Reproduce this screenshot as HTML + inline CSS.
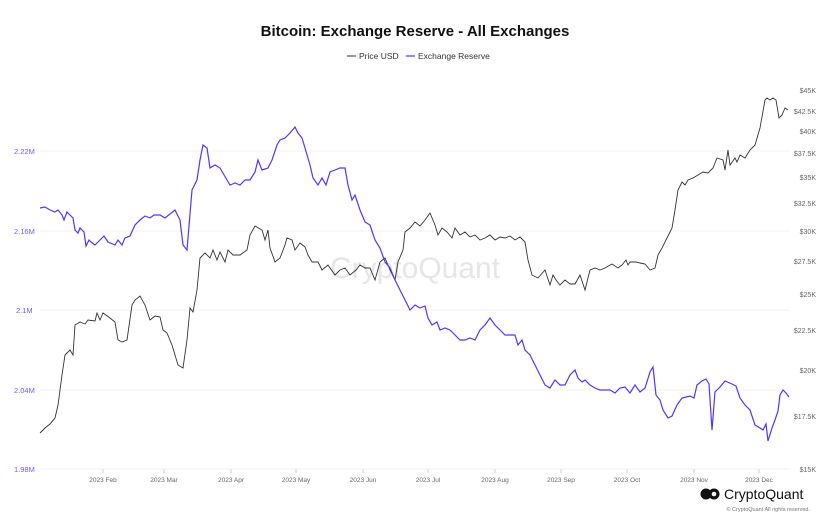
<!DOCTYPE html>
<html><head><meta charset="utf-8"><style>
body{margin:0;background:#fff;}
svg{display:block;font-family:"Liberation Sans",sans-serif;}
</style></head><body>
<svg width="830" height="523" viewBox="0 0 830 523">
<rect width="830" height="523" fill="#fff"/>
<text x="415" y="36" text-anchor="middle" font-size="15" font-weight="bold" fill="#111">Bitcoin: Exchange Reserve - All Exchanges</text>
<line x1="347" y1="56" x2="356" y2="56" stroke="#333" stroke-width="1"/>
<text x="359" y="59" font-size="8.5" fill="#333">Price USD</text>
<line x1="406" y1="56" x2="415" y2="56" stroke="#5533ff" stroke-width="1.2"/>
<text x="418" y="59" font-size="8.5" fill="#333">Exchange Reserve</text>
<g stroke="#f0f0f0" stroke-width="1">
<line x1="40" y1="151" x2="790" y2="151"/><line x1="40" y1="231" x2="790" y2="231"/><line x1="40" y1="310" x2="790" y2="310"/><line x1="40" y1="390" x2="790" y2="390"/><line x1="40" y1="469" x2="790" y2="469"/>
</g>
<g font-size="7.5" fill="#6f5cff">
<text x="14" y="154">2.22M</text><text x="14" y="234">2.16M</text><text x="16" y="313">2.1M</text><text x="14" y="393">2.04M</text><text x="14" y="472">1.98M</text>
</g>
<g font-size="7" fill="#666" text-anchor="end">
<text x="816" y="93">$45K</text><text x="816" y="114">$42.5K</text><text x="816" y="134">$40K</text><text x="816" y="156">$37.5K</text><text x="816" y="180">$35K</text><text x="816" y="206">$32.5K</text><text x="816" y="234">$30K</text><text x="816" y="264">$27.5K</text><text x="816" y="297">$25K</text><text x="816" y="333">$22.5K</text><text x="816" y="373">$20K</text><text x="816" y="419">$17.5K</text><text x="816" y="472">$15K</text>
</g>
<g stroke="#ccc"><line x1="103" y1="469" x2="103" y2="473"/><line x1="164" y1="469" x2="164" y2="473"/><line x1="231" y1="469" x2="231" y2="473"/><line x1="296" y1="469" x2="296" y2="473"/><line x1="363" y1="469" x2="363" y2="473"/><line x1="428" y1="469" x2="428" y2="473"/><line x1="495" y1="469" x2="495" y2="473"/><line x1="561" y1="469" x2="561" y2="473"/><line x1="627" y1="469" x2="627" y2="473"/><line x1="694" y1="469" x2="694" y2="473"/><line x1="759" y1="469" x2="759" y2="473"/></g>
<g font-size="6.5" fill="#666" text-anchor="middle">
<text x="103" y="482">2023 Feb</text><text x="164" y="482">2023 Mar</text><text x="231" y="482">2023 Apr</text><text x="296" y="482">2023 May</text><text x="363" y="482">2023 Jun</text><text x="428" y="482">2023 Jul</text><text x="495" y="482">2023 Aug</text><text x="561" y="482">2023 Sep</text><text x="627" y="482">2023 Oct</text><text x="694" y="482">2023 Nov</text><text x="759" y="482">2023 Dec</text>
</g>
<text x="415" y="278" text-anchor="middle" font-size="30" fill="#e6e6e6">CryptoQuant</text>
<polyline fill="none" stroke="#333" stroke-width="0.9" points="40,433 45,428 50,424 55,418 58,405 62,375 65,355 70,350 73,355 75,325 80,322 85,324 88,320 95,321 97,313 100,320 103,313 110,318 115,322 118,340 122,342 127,340 132,305 135,300 140,296 145,305 150,320 155,316 160,317 163,330 167,333 172,345 178,365 183,368 187,340 190,308 193,312 197,290 200,258 205,253 210,258 213,250 217,260 220,252 225,262 228,250 233,255 240,255 247,250 250,235 255,226 262,230 265,240 268,230 270,248 275,262 280,258 285,245 287,238 292,240 295,250 300,243 305,247 308,255 312,262 318,262 322,270 328,265 335,275 340,270 345,268 350,275 356,270 360,265 365,268 370,268 375,280 380,262 385,258 390,270 395,280 398,262 403,250 405,232 410,228 415,222 420,226 425,220 430,213 435,225 438,235 442,228 447,232 452,238 455,228 460,235 465,232 470,237 475,235 480,240 485,238 490,235 495,240 500,237 505,238 510,236 515,240 520,237 525,242 528,260 532,275 538,278 545,270 550,285 553,275 556,280 560,285 565,280 570,284 575,284 580,275 585,290 590,270 595,268 600,270 605,268 612,264 618,268 622,265 626,260 628,265 630,262 636,262 640,263 645,264 650,270 655,268 658,255 662,248 667,238 672,228 675,210 678,190 682,182 685,185 688,180 693,178 698,175 703,172 708,173 713,168 717,158 723,160 725,170 728,150 730,165 735,158 737,162 740,155 745,158 750,150 755,145 760,128 765,100 767,98 770,100 773,98 776,100 779,118 782,115 785,108 788,110"/>
<polyline fill="none" stroke="#5533ff" stroke-width="1.2" points="40,208 45,207 50,210 55,212 58,210 62,215 64,220 67,212 70,215 73,218 75,230 78,233 80,228 84,232 86,246 89,240 91,242 95,245 100,240 104,236 108,242 115,245 118,240 122,245 125,238 130,236 135,225 140,220 145,216 150,218 154,215 160,215 165,218 170,214 175,210 180,220 183,245 187,250 192,190 197,180 200,160 203,145 207,148 210,168 215,165 220,168 227,180 230,185 235,183 240,185 245,180 250,180 255,172 258,160 262,170 268,168 272,160 277,145 280,140 285,138 290,133 295,127 298,133 302,138 305,148 310,165 313,178 318,185 322,178 326,185 330,172 335,170 340,168 345,168 348,185 352,200 355,195 360,210 365,222 370,225 375,240 380,248 385,262 390,268 395,280 400,290 405,300 410,310 415,305 420,308 425,306 428,318 432,325 437,322 440,330 445,328 450,330 455,335 460,340 465,340 470,338 475,340 480,330 485,325 490,318 495,325 500,330 505,335 510,335 515,335 518,345 522,340 525,350 530,355 535,365 540,375 545,385 550,388 555,380 560,385 565,385 570,375 575,370 578,378 582,382 585,380 590,385 595,388 600,390 605,390 610,390 615,393 620,388 625,387 630,393 635,385 640,392 645,388 650,372 653,367 656,395 660,400 663,410 668,418 672,416 677,405 682,398 690,396 694,398 697,385 702,381 706,379 709,384 712,430 715,392 720,387 725,381 732,384 736,386 740,398 745,405 750,410 755,425 760,428 763,430 766,424 768,441 772,428 775,420 778,411 780,395 783,390 786,393 789,397"/>
<g fill="#111">
<circle cx="706" cy="494" r="5.5"/><circle cx="714" cy="494" r="5.5"/>
<circle cx="714" cy="494" r="2.3" fill="#fff"/>
</g>
<text x="724" y="499" font-size="14" fill="#111">CryptoQuant</text>
<text x="810" y="511" text-anchor="end" font-size="5.5" fill="#777">© CryptoQuant All rights reserved.</text>
</svg>
</body></html>
